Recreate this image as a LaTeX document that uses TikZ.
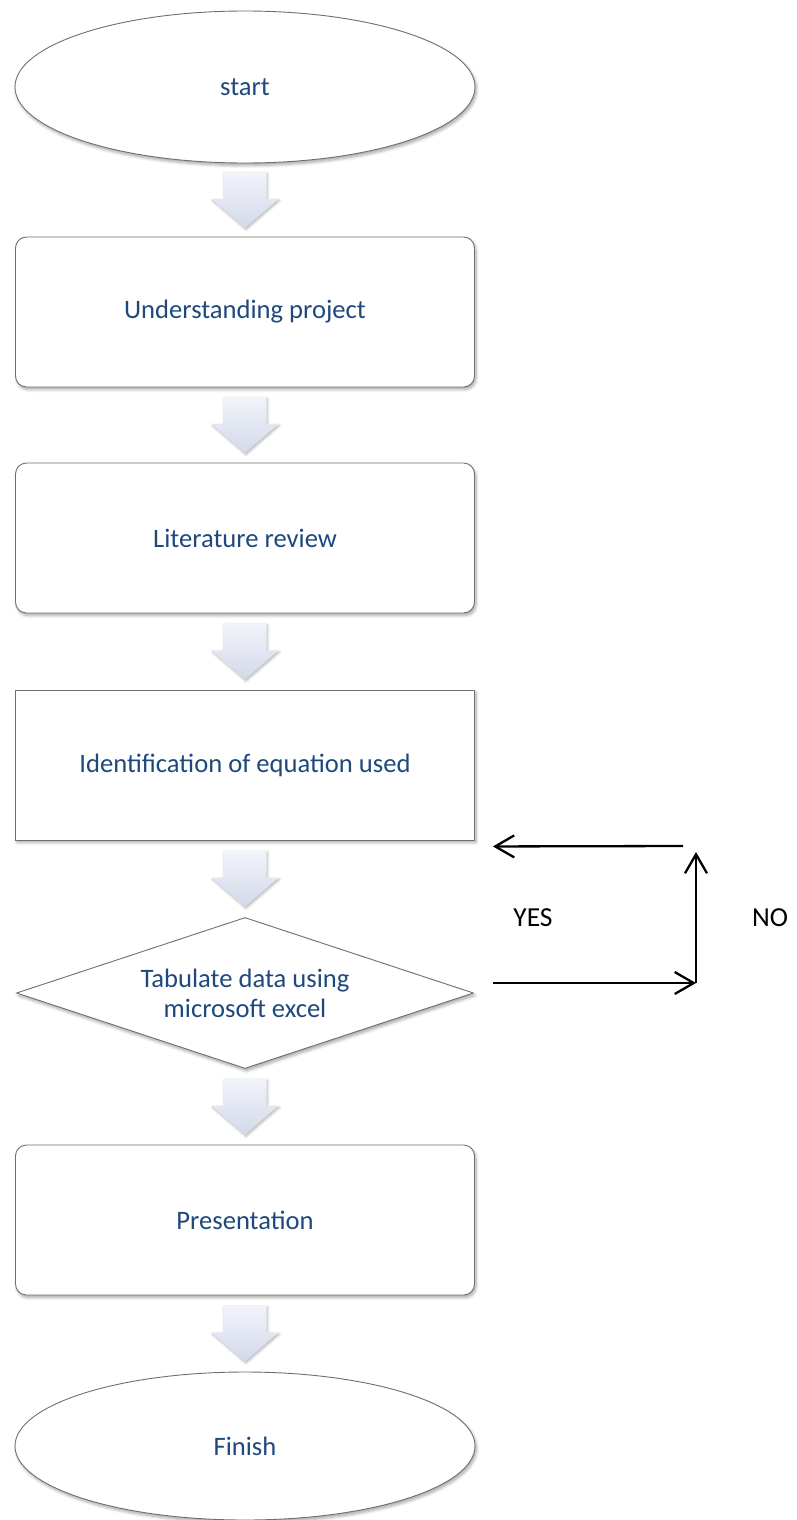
\documentclass[tikz,border=0pt]{standalone}
\usepackage{fontspec}
\setmainfont{Carlito}
\usetikzlibrary{shapes.geometric, arrows.meta, shadows.blur, calc}
\definecolor{txtblue}{HTML}{1F497D}
\definecolor{arrowtop}{HTML}{F2F4FA}
\definecolor{arrowbottom}{HTML}{D3D9EA}
\definecolor{edgegray}{HTML}{6F6F6F}

\tikzset{
  softshadow/.style={blur shadow={shadow xshift=1.5pt, shadow yshift=-2.5pt,
      shadow blur radius=3pt, shadow blur steps=6, shadow opacity=35}},
  label/.style={font=\fontsize{26.6}{30}\selectfont, text=txtblue, align=center},
  terminal/.style={ellipse, draw=edgegray, line width=0.9pt, fill=white,
      minimum width=460pt, minimum height=152pt, inner sep=0pt, softshadow, label},
  procbox/.style={rectangle, rounded corners=11pt, draw=edgegray, line width=0.9pt,
      fill=white, minimum width=459pt, minimum height=150pt, softshadow, label},
  sharpbox/.style={procbox, rounded corners=0pt},
  decision/.style={diamond, shape aspect=3.03, draw=edgegray, line width=0.9pt, fill=white,
      minimum width=457pt, minimum height=151pt, inner sep=0pt, softshadow, label},
  loopline/.style={line width=2.3pt, -{Straight Barb[length=19pt, width=22pt, line width=2.3pt]}},
  answer/.style={font=\fontsize{27.5}{30}\selectfont, text=black},
  flowarrow/.pic={
    \path[top color=arrowtop, bottom color=arrowbottom,
          blur shadow={shadow xshift=1pt, shadow yshift=-1.5pt,
          shadow blur radius=2.5pt, shadow opacity=30}]
      (-21.5,-28) -- (21.5,-28) -- (21.5,-1) -- (33.5,-1) -- (0,28)
      -- (-33.5,-1) -- (-21.5,-1) -- cycle;
  }
}

\begin{document}
\begin{tikzpicture}[x=1pt, y=-1pt]
\useasboundingbox (0,0) rectangle (797,1520);

% flow steps
\node[terminal] (start)  at (245,87)   {start};
\node[procbox]  (under)  at (245,312)  {Understanding project};
\node[procbox]  (lit)    at (245,538)  {Literature review};
\node[sharpbox] (ident)  at (245,765)  {Identification of equation used};
\node[decision] (tab)    at (245,993)  {Tabulate data using\\microsoft excel};
\node[procbox]  (pres)   at (245,1220) {Presentation};
\node[terminal, minimum height=148pt] (finish) at (245,1446) {Finish};

% block arrows between steps
\pic at ($(start.south)!0.5!(under.north)$) {flowarrow};
\pic at ($(under.south)!0.5!(lit.north)$)   {flowarrow};
\pic at ($(lit.south)!0.5!(ident.north)$)   {flowarrow};
\pic at ($(ident.south)!0.5!(tab.north)$)   {flowarrow};
\pic at ($(tab.south)!0.5!(pres.north)$)    {flowarrow};
\pic at ($(pres.south)!0.5!(finish.north)$) {flowarrow};

% loop back from the decision
\coordinate (outA)   at ($(tab.east)+(19,-10)$);
\coordinate (cornA)  at (696,983);
\coordinate (cornB)  at (696,852);
\coordinate (backB)  at (683,846);
\coordinate (backA)  at ($(ident.south east)+(18,6)$);

\draw[loopline] (outA) -- (cornA);
\draw[loopline] (cornA) -- (cornB);
\draw[loopline] (backB) -- (backA);

\node[answer] (yes) at (533,918) {YES};
\node[answer] (no)  at (770,918) {NO};
\end{tikzpicture}
\end{document}
